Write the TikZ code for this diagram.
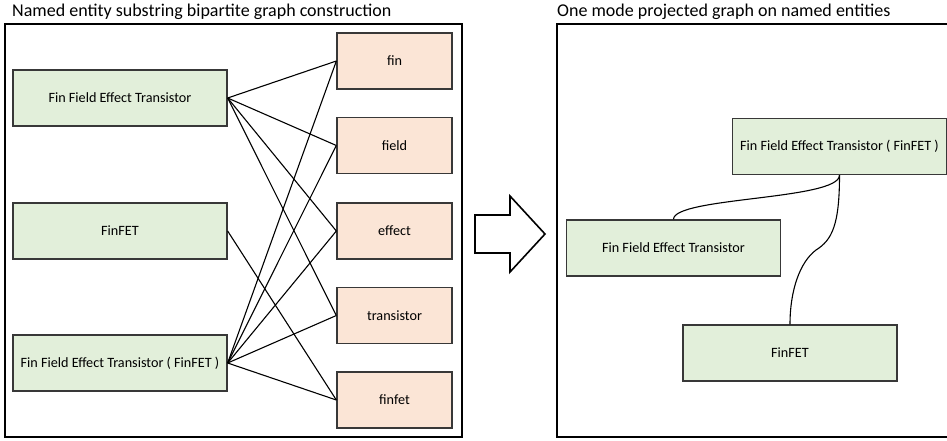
\documentclass[tikz,border=0pt]{standalone}
\usepackage{fontspec}
\setmainfont{Carlito}
\usepackage{xcolor}
\usetikzlibrary{calc}

\definecolor{entgreen}{HTML}{E2EFDA}
\definecolor{subpink}{HTML}{FBE5D6}
\definecolor{boxline}{HTML}{383838}

\begin{document}
\begin{tikzpicture}[x=1pt, y=-1pt,
        entity/.style={draw=boxline, line width=1.3pt, fill=entgreen,
                minimum width=214pt, minimum height=56pt, inner sep=0pt,
                font=\fontsize{14.2}{16}\selectfont},
        substr/.style={entity, fill=subpink, minimum width=115pt},
        link/.style={line width=1.1pt, black},
        frame/.style={line width=2pt, black}]

        \useasboundingbox (0,0) rectangle (947,440);
        \clip (0,0) rectangle (947,440);

        % Titles
        \node[anchor=west, inner sep=0pt, font=\fontsize{18}{20}\selectfont] (bititle) at (12,11.5)
                {Named entity substring bipartite graph construction};
        \node[anchor=west, inner sep=0pt, font=\fontsize{18}{20}\selectfont] (projtitle) at (557,11.5)
                {One mode projected graph on named entities};

        % Outer frames
        \draw[frame] (5,24) rectangle (462,437);
        \draw[frame] (557,24) rectangle (960,437);

        % Named entities
        \node[entity] (fullname) at (120,98)  {Fin Field Effect Transistor};
        \node[entity] (abbrev)   at (120,231) {FinFET};
        \node[entity] (combined) at (120,363) {Fin Field Effect Transistor ( FinFET )};

        % Substrings
        \node[substr] (fin)        at (394.5,61)    {fin};
        \node[substr] (field)      at (394.5,145.5) {field};
        \node[substr] (effect)     at (394.5,231)   {effect};
        \node[substr] (transistor) at (394.5,315.5) {transistor};
        \node[substr] (finfet)     at (394.5,400)   {finfet};

        % Bipartite edges
        \foreach \s in {fin,field,effect,transistor} {
            \draw[link] (fullname.east) -- (\s.west);
        }
        \draw[link] (abbrev.east) -- (finfet.west);
        \foreach \s in {fin,field,effect,transistor,finfet} {
            \draw[link] (combined.east) -- (\s.west);
        }

        % Hollow arrow between the two graphs
        \draw[line width=1.6pt, fill=white] (475,215) -- (510,215) -- (510,196) -- (545,234)
                -- (510,272) -- (510,253) -- (475,253) -- cycle;

        % Projected graph
        \node[entity] (projcombined) at (839.5,146.5) {Fin Field Effect Transistor ( FinFET )};
        \node[entity] (projfull)     at (673.5,248)   {Fin Field Effect Transistor};
        \node[entity] (projabbrev)   at (790,353)     {FinFET};

        \coordinate (bend) at (816,250);
        \draw[link] (projcombined.south) .. controls (839.5,200) and (673.5,197) .. (projfull.north);
        \draw[link] (projcombined.south) .. controls (839.5,225) and (832,240) .. (bend)
                .. controls (800,262) and (790,290) .. (projabbrev.north);
\end{tikzpicture}
\end{document}
